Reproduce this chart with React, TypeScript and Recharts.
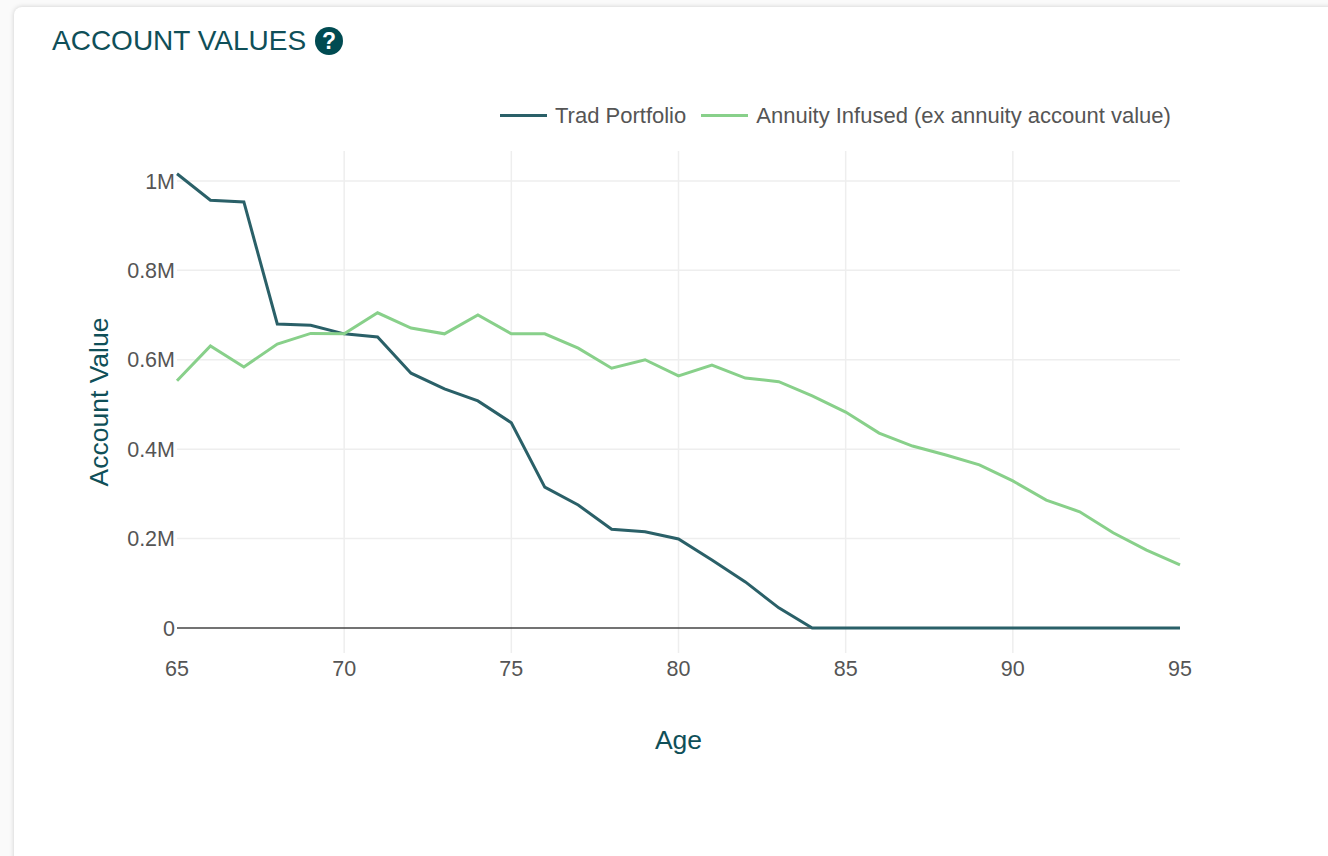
import React from "react";
import { LineChart, Line, XAxis, YAxis, CartesianGrid, Legend, ReferenceLine } from "recharts";

const ages = [65, 66, 67, 68, 69, 70, 71, 72, 73, 74, 75, 76, 77, 78, 79, 80, 81, 82, 83, 84, 85, 86, 87, 88, 89, 90, 91, 92, 93, 94, 95];
const tradPortfolio = [1.016, 0.957, 0.953, 0.68, 0.677, 0.658, 0.651, 0.57, 0.535, 0.508, 0.459, 0.315, 0.275, 0.221, 0.215, 0.199, 0.152, 0.103, 0.045, 0, 0, 0, 0, 0, 0, 0, 0, 0, 0, 0, 0];
const annuityInfused = [0.553, 0.631, 0.584, 0.635, 0.659, 0.658, 0.705, 0.671, 0.658, 0.7, 0.658, 0.658, 0.626, 0.581, 0.6, 0.564, 0.588, 0.559, 0.551, 0.519, 0.483, 0.436, 0.407, 0.387, 0.365, 0.329, 0.286, 0.26, 0.213, 0.174, 0.141];
const xTicks = [65, 70, 75, 80, 85, 90, 95];
const yTicks = [0, 0.2, 0.4, 0.6, 0.8, 1];

const rows = ages.map((age, i) => ({ age, trad: tradPortfolio[i], annuity: annuityInfused[i] }));

const TEAL = "#2a6068";
const GREEN = "#88d08a";
const TITLE = "#0f4f58";
const TICK = "#555";
const FONT = '"Liberation Sans", Arial, sans-serif';

const formatMillions = (v: number) => (v === 0 ? "0" : v === 1 ? "1M" : `${v}M`);

// Legend is laid out by hand so the keys sit on one row above the plot.
const renderLegend = ({ payload }: any) => (
  <div style={{ display: "flex", alignItems: "center", fontFamily: FONT, fontSize: 22, lineHeight: "25px", color: TICK }}>
    {(payload || []).map((entry: any, i: number) => (
      <div key={entry.value} style={{ display: "flex", alignItems: "center", marginLeft: i ? 15 : 0 }}>
        <span style={{ width: 47, height: 3, background: entry.color, marginRight: 8 }} />
        <span>{entry.value}</span>
      </div>
    ))}
  </div>
);

// Rotated value-axis title, centred on the plot height.
const renderYTitle = () => (
  <text
    x={99}
    y={402}
    transform="rotate(-90 99 402)"
    textAnchor="middle"
    dominantBaseline="central"
    fontFamily={FONT}
    fontSize={26.5}
    fill={TITLE}
  >
    Account Value
  </text>
);

export default function App() {
  return (
    <div style={{ position: "absolute", left: 0, top: 0, width: 1328, height: 856, overflow: "hidden", background: "#fafafa" }}>
      <div
        style={{
          position: "absolute",
          left: 14,
          top: 7,
          width: 1400,
          height: 950,
          borderRadius: 8,
          background: "#fff",
          boxShadow: "0 0 5px rgba(0,0,0,0.18)",
        }}
      />
      <div
        style={{
          position: "absolute",
          left: 52,
          top: 24,
          fontFamily: FONT,
          fontSize: 28,
          lineHeight: "34px",
          color: TITLE,
          whiteSpace: "nowrap",
          display: "flex",
          alignItems: "center",
        }}
      >
        ACCOUNT VALUES
        <svg width={28} height={28} viewBox="0 0 28 28" style={{ marginLeft: 9 }}>
          <circle cx={14} cy={14} r={14} fill="#004b52" />
          <text x={14} y={22} textAnchor="middle" fontFamily={FONT} fontWeight="bold" fontSize={23} fill="#fff">
            ?
          </text>
        </svg>
      </div>
      <div style={{ position: "absolute", left: 0, top: 0 }}>
        <LineChart
          width={1328}
          height={856}
          data={rows}
          margin={{ top: 126, right: 148, bottom: 0, left: 0 }}
        >
          <CartesianGrid
            stroke="#eeeeee"
            strokeWidth={1.5}
            horizontalValues={[0.2, 0.4, 0.6, 0.8, 1]}
            verticalValues={[70, 75, 80, 85, 90]}
          />
          <XAxis
            dataKey="age"
            type="number"
            domain={[65, 95]}
            ticks={xTicks}
            height={203}
            axisLine={false}
            tickLine={false}
            tickSize={0}
            tickMargin={8}
            interval={0}
            tick={{ fontFamily: FONT, fontSize: 21.5, fill: TICK }}
            label={{ value: "Age", position: "insideTop", offset: 77, fontFamily: FONT, fontSize: 26.5, fill: TITLE }}
          />
          <YAxis
            type="number"
            domain={[-0.056, 1.067]}
            ticks={yTicks}
            width={177}
            axisLine={false}
            tickLine={false}
            tickSize={0}
            tickMargin={2}
            interval={0}
            tickFormatter={formatMillions}
            tick={{ fontFamily: FONT, fontSize: 21.5, fill: TICK }}
            label={{ value: "Account Value", content: renderYTitle }}
          />
          <ReferenceLine y={0} stroke="#444" strokeWidth={1.5} />
          <Legend
            verticalAlign="top"
            align="left"
            itemSorter={null}
            content={renderLegend}
            wrapperStyle={{ position: "absolute", left: 500, top: 103, width: 720 }}
          />
          <Line
            dataKey="trad"
            name="Trad Portfolio"
            stroke={TEAL}
            strokeWidth={3}
            dot={false}
            isAnimationActive={false}
          />
          <Line
            dataKey="annuity"
            name="Annuity Infused (ex annuity account value)"
            stroke={GREEN}
            strokeWidth={3}
            dot={false}
            isAnimationActive={false}
          />
        </LineChart>
      </div>
    </div>
  );
}
